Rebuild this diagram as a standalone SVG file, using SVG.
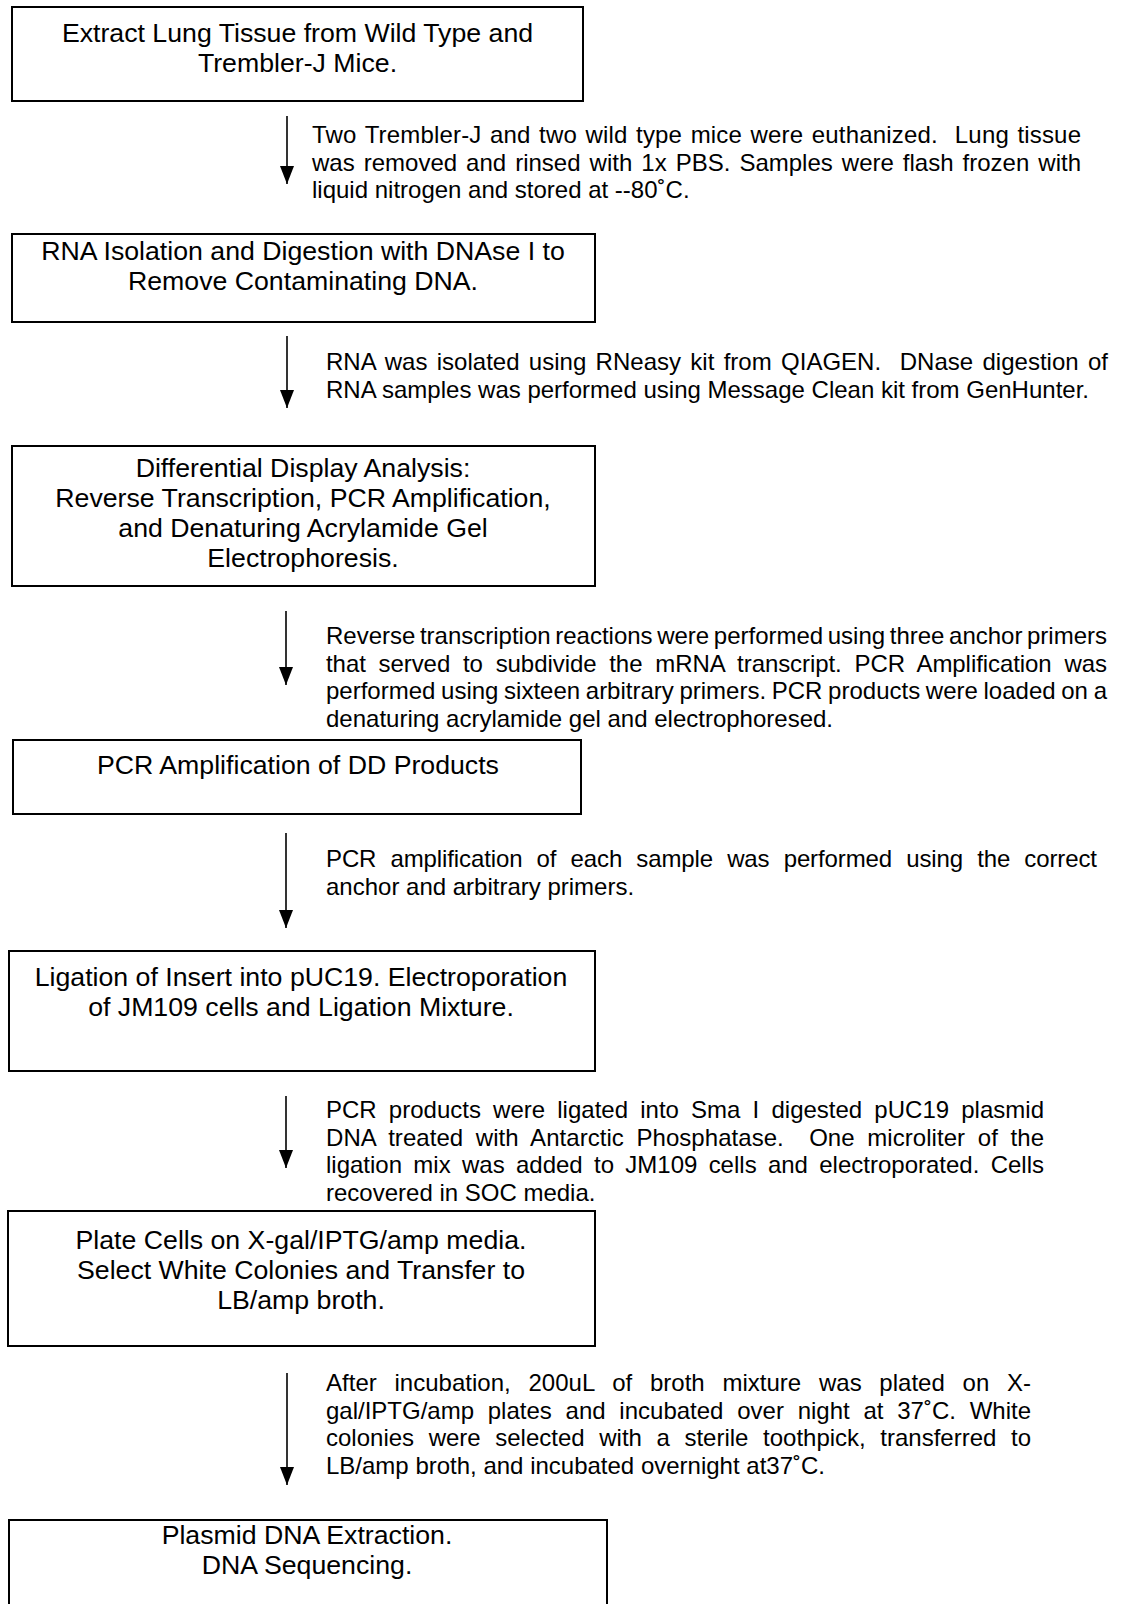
<svg xmlns="http://www.w3.org/2000/svg" width="1143" height="1604" viewBox="0 0 1143 1604">
<style>
.box{fill:#fff;stroke:#000;stroke-width:2}
.bt{font-family:"Liberation Sans",Arial,sans-serif;font-size:26.7px;fill:#000;text-anchor:middle}
.dt{font-family:"Liberation Sans",Arial,sans-serif;font-size:24px;fill:#000;white-space:pre}
.ar{stroke:#000;stroke-width:1.6;fill:none}
</style>
<defs>
<marker id="ah" viewBox="0 0 18 14" refX="18" refY="7" markerWidth="18" markerHeight="14" orient="auto" markerUnits="userSpaceOnUse">
<path d="M0,0 L18,7 L0,14 Z" fill="#000"/>
</marker>
</defs>
<rect width="1143" height="1604" fill="#fff"/>

<g id="node1">
<rect class="box" x="12" y="7" width="571" height="94"/>
<text class="bt" x="297.5" y="42">Extract Lung Tissue from Wild Type and</text>
<text class="bt" x="297.5" y="72">Trembler-J Mice.</text>
</g>

<g id="node2">
<rect class="box" x="12" y="234" width="583" height="88"/>
<text class="bt" x="303" y="260">RNA Isolation and Digestion with DNAse I to</text>
<text class="bt" x="303" y="290">Remove Contaminating DNA.</text>
</g>

<g id="node3">
<rect class="box" x="12" y="446" width="583" height="140"/>
<text class="bt" x="303" y="477">Differential Display Analysis:</text>
<text class="bt" x="303" y="507">Reverse Transcription, PCR Amplification,</text>
<text class="bt" x="303" y="537">and Denaturing Acrylamide Gel</text>
<text class="bt" x="303" y="567">Electrophoresis.</text>
</g>

<g id="node4">
<rect class="box" x="13" y="740" width="568" height="74"/>
<text class="bt" x="298" y="774">PCR Amplification of DD Products</text>
</g>

<g id="node5">
<rect class="box" x="9" y="951" width="586" height="120"/>
<text class="bt" x="301" y="986">Ligation of Insert into pUC19. Electroporation</text>
<text class="bt" x="301" y="1016">of JM109 cells and Ligation Mixture.</text>
</g>

<g id="node6">
<rect class="box" x="8" y="1211" width="587" height="135"/>
<text class="bt" x="301" y="1249">Plate Cells on X-gal/IPTG/amp media.</text>
<text class="bt" x="301" y="1279">Select White Colonies and Transfer to</text>
<text class="bt" x="301" y="1309">LB/amp broth.</text>
</g>

<g id="node7">
<rect class="box" x="9" y="1520" width="598" height="120"/>
<text class="bt" x="307" y="1544">Plasmid DNA Extraction.</text>
<text class="bt" x="307" y="1574">DNA Sequencing.</text>
</g>

<g id="connectors">
<line class="ar" x1="287" y1="116" x2="287" y2="184" marker-end="url(#ah)"/>
<line class="ar" x1="287" y1="336" x2="287" y2="408" marker-end="url(#ah)"/>
<line class="ar" x1="286" y1="611" x2="286" y2="685" marker-end="url(#ah)"/>
<line class="ar" x1="286" y1="833" x2="286" y2="928" marker-end="url(#ah)"/>
<line class="ar" x1="286" y1="1096" x2="286" y2="1168" marker-end="url(#ah)"/>
<line class="ar" x1="287" y1="1373" x2="287" y2="1485" marker-end="url(#ah)"/>
</g>

<g id="desc1">
<text class="dt" x="312" y="143" word-spacing="1.7" textLength="769" lengthAdjust="spacing">Two Trembler-J and two wild type mice were euthanized.  Lung tissue</text>
<text class="dt" x="312" y="170.5" word-spacing="2.37" textLength="769" lengthAdjust="spacing">was removed and rinsed with 1x PBS. Samples were flash frozen with</text>
<text class="dt" x="312" y="198">liquid nitrogen and stored at --80˚C.</text>
</g>

<g id="desc2">
<text class="dt" x="326" y="370" word-spacing="2.58" textLength="782" lengthAdjust="spacing">RNA was isolated using RNeasy kit from QIAGEN.  DNase digestion of</text>
<text class="dt" x="326" y="397.5">RNA samples was performed using Message Clean kit from GenHunter.</text>
</g>

<g id="desc3">
<text class="dt" x="326" y="644" word-spacing="-2.07" textLength="781" lengthAdjust="spacing">Reverse transcription reactions were performed using three anchor primers</text>
<text class="dt" x="326" y="671.5" word-spacing="6.2" textLength="781" lengthAdjust="spacing">that served to subdivide the mRNA transcript. PCR Amplification was</text>
<text class="dt" x="326" y="699" word-spacing="-0.99" textLength="781" lengthAdjust="spacing">performed using sixteen arbitrary primers. PCR products were loaded on a</text>
<text class="dt" x="326" y="726.5">denaturing acrylamide gel and electrophoresed.</text>
</g>

<g id="desc4">
<text class="dt" x="326" y="867" word-spacing="7.6" textLength="771" lengthAdjust="spacing">PCR amplification of each sample was performed using the correct</text>
<text class="dt" x="326" y="894.5">anchor and arbitrary primers.</text>
</g>

<g id="desc5">
<text class="dt" x="326" y="1118" word-spacing="5.5" textLength="718" lengthAdjust="spacing">PCR products were ligated into Sma I digested pUC19 plasmid</text>
<text class="dt" x="326" y="1145.5" word-spacing="5.97" textLength="718" lengthAdjust="spacing">DNA treated with Antarctic Phosphatase.  One microliter of the</text>
<text class="dt" x="326" y="1173" word-spacing="4.63" textLength="718" lengthAdjust="spacing">ligation mix was added to JM109 cells and electroporated. Cells</text>
<text class="dt" x="326" y="1200.5">recovered in SOC media.</text>
</g>

<g id="desc6">
<text class="dt" x="326" y="1391" word-spacing="11" textLength="705" lengthAdjust="spacing">After incubation, 200uL of broth mixture was plated on X-</text>
<text class="dt" x="326" y="1418.5" word-spacing="7.1" textLength="705" lengthAdjust="spacing">gal/IPTG/amp plates and incubated over night at 37˚C. White</text>
<text class="dt" x="326" y="1446" word-spacing="7.9" textLength="705" lengthAdjust="spacing">colonies were selected with a sterile toothpick, transferred to</text>
<text class="dt" x="326" y="1473.5">LB/amp broth, and incubated overnight at37˚C.</text>
</g>
</svg>
